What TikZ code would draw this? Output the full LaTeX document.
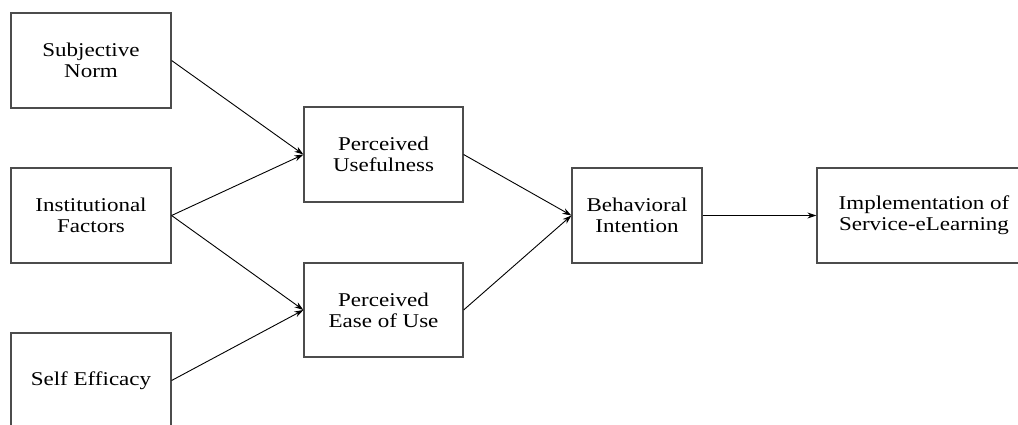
\documentclass[tikz,border=0pt]{standalone}
\usepackage{fontspec}
\setmainfont{Liberation Serif}[FakeStretch=1.18]
\usetikzlibrary{arrows.meta}
\begin{document}
\begin{tikzpicture}[x=1pt,y=-1pt,
  box/.style={draw=black!70,line width=1.2pt,rectangle,inner sep=0pt,align=center,
    font=\fontsize{19.5}{21}\selectfont},
  arr/.style={draw=black,line width=0.9pt,-{Stealth[length=9pt,width=6pt]}}]
\useasboundingbox (0,0) rectangle (1018,424);
\clip (0,0) rectangle (1018,424);
\node[box,minimum width=160pt,minimum height=95pt] (sn) at (91,60.5) {Subjective\\Norm};
\node[box,minimum width=160pt,minimum height=95pt] (if) at (91,215.5) {Institutional\\Factors};
\node[box,minimum width=160pt,minimum height=95pt] (se) at (91,380.5) {Self Efficacy};
\node[box,minimum width=159pt,minimum height=95pt] (pu) at (383.5,154.5) {Perceived\\Usefulness};
\node[box,minimum width=159pt,minimum height=94pt] (pe) at (383.5,310) {Perceived\\Ease of Use};
\node[box,minimum width=130pt,minimum height=95pt] (bi) at (637,215.5) {Behavioral\\Intention};
\node[box,minimum width=214pt,minimum height=95pt] (im) at (924,215.5) {Implementation of\\Service-eLearning};
\draw[arr] (sn.east) -- (pu.west);
\draw[arr] (if.east) -- (pu.west);
\draw[arr] (if.east) -- (pe.west);
\draw[arr] (se.east) -- (pe.west);
\draw[arr] (pu.east) -- (bi.west);
\draw[arr] (pe.east) -- (bi.west);
\draw[arr] (bi.east) -- (im.west);
\end{tikzpicture}
\end{document}
